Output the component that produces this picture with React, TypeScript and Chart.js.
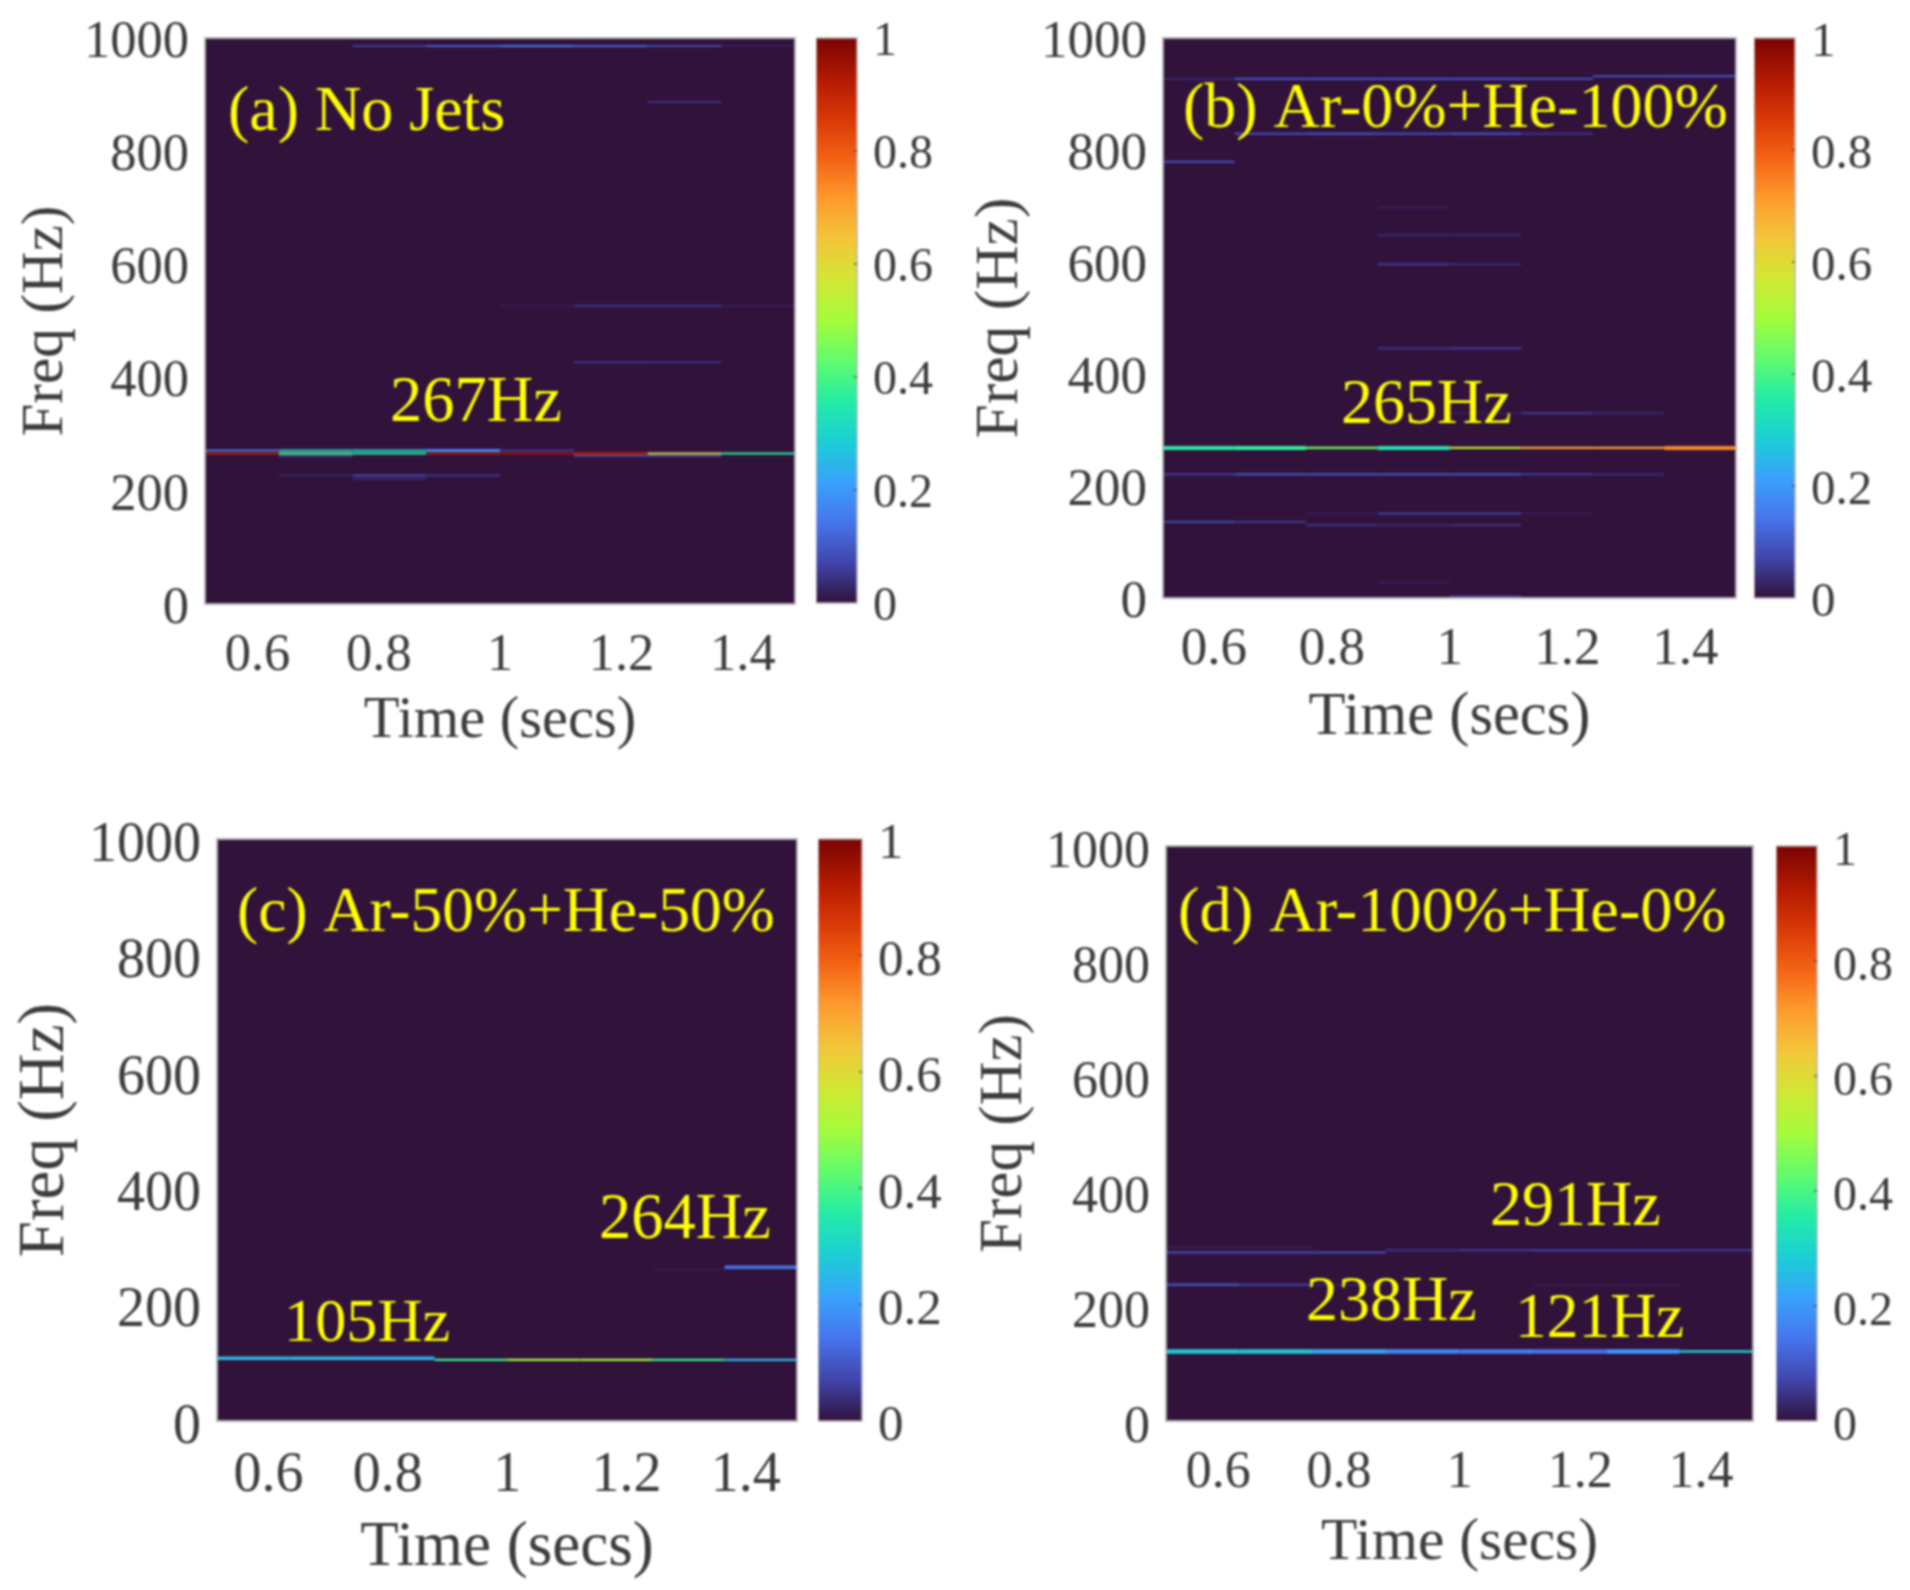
import React, { useEffect, useRef } from "react";
import { Chart, registerables } from "chart.js";

Chart.register(...registerables);

// ---------- data ----------
const timeBinEdges = [0.5135, 0.635, 0.7565, 0.878, 1.0, 1.1215, 1.243, 1.3645, 1.486];
const timeTicks = [0.6, 0.8, 1, 1.2, 1.4];
const freqTicks = [0, 200, 400, 600, 800, 1000];
const levelTicks = [0, 0.2, 0.4, 0.6, 0.8, 1];

// each row: frequency in Hz, then normalised level in each of the eight time bins (0 = none)
const panelAStrong = [
  { freq: 271, levels: [0, 0, 0, 0.17, 0, 0, 0, 0] },
  { freq: 266, levels: [0, 0, 0, 0, 0, 0.93, 0, 0] },
];
const panelAFaint = [
  { freq: 986, levels: [0, 0, 0.06, 0.11, 0.15, 0.12, 0.08, 0.015] },
  { freq: 887, levels: [0, 0, 0, 0, 0, 0, 0.045, 0] },
  { freq: 527, levels: [0, 0, 0, 0, 0.015, 0.05, 0.05, 0.02] },
  { freq: 427, levels: [0, 0, 0, 0, 0, 0.05, 0.04, 0] },
  { freq: 271, levels: [0.14, 0.3, 0.3, 0, 0.06, 0, 0, 0] },
  { freq: 266, levels: [0.92, 0.42, 0.36, 0.93, 0.95, 0, 0.6, 0.36] },
  { freq: 262, levels: [0, 0.07, 0, 0, 0, 0.08, 0.08, 0] },
  { freq: 227, levels: [0, 0.025, 0.09, 0.05, 0, 0, 0, 0] },
  { freq: 221, levels: [0, 0, 0.03, 0, 0, 0, 0, 0] },
];

const panelBStrong = [
  { freq: 268, levels: [0.36, 0.37, 0, 0.34, 0, 0, 0, 0.74] },
];
const panelBFaint = [
  { freq: 932, levels: [0, 0, 0, 0, 0, 0, 0.08, 0.09] },
  { freq: 927, levels: [0.03, 0.09, 0.09, 0.09, 0.09, 0.075, 0, 0] },
  { freq: 829, levels: [0, 0.07, 0.08, 0.07, 0.08, 0.04, 0, 0] },
  { freq: 779, levels: [0.07, 0, 0, 0, 0, 0, 0, 0] },
  { freq: 697, levels: [0, 0, 0, 0.02, 0, 0, 0, 0] },
  { freq: 648, levels: [0, 0, 0, 0.03, 0.03, 0, 0, 0] },
  { freq: 596, levels: [0, 0, 0, 0.05, 0.03, 0, 0, 0] },
  { freq: 446, levels: [0, 0, 0, 0.04, 0.05, 0, 0, 0] },
  { freq: 330, levels: [0, 0, 0, 0, 0.015, 0.05, 0.03, 0] },
  { freq: 268, levels: [0, 0, 0.45, 0, 0.56, 0.7, 0.7, 0] },
  { freq: 221, levels: [0.05, 0.08, 0.08, 0.08, 0.08, 0.05, 0.03, 0] },
  { freq: 151, levels: [0, 0, 0.015, 0.06, 0.06, 0.015, 0, 0] },
  { freq: 136, levels: [0.07, 0.05, 0, 0, 0, 0, 0, 0] },
  { freq: 130, levels: [0, 0, 0.04, 0.03, 0.04, 0, 0, 0] },
  { freq: 28, levels: [0, 0, 0, 0.02, 0, 0, 0, 0] },
  { freq: 3, levels: [0, 0, 0, 0, 0.05, 0, 0, 0] },
];

const panelCStrong = [
  { freq: 108, levels: [0.25, 0.25, 0.24, 0, 0, 0, 0, 0] },
  { freq: 264, levels: [0, 0, 0, 0, 0, 0, 0, 0.14] },
];
const panelCFaint = [
  { freq: 105, levels: [0, 0, 0, 0.38, 0.5, 0.5, 0.38, 0.25] },
  { freq: 260, levels: [0, 0, 0, 0, 0, 0, 0.012, 0] },
];

const panelDStrong = [
  { freq: 121, levels: [0.28, 0.28, 0.22, 0.18, 0.16, 0.14, 0.2, 0] },
];
const panelDFaint = [
  { freq: 302, levels: [0.015, 0.015, 0, 0, 0, 0, 0, 0] },
  { freq: 293, levels: [0.07, 0.07, 0.07, 0, 0, 0, 0, 0] },
  { freq: 297, levels: [0, 0, 0, 0.04, 0.05, 0.06, 0.06, 0.05] },
  { freq: 237, levels: [0.09, 0.06, 0.02, 0, 0, 0.012, 0.012, 0] },
  { freq: 121, levels: [0, 0, 0, 0, 0, 0, 0, 0.3] },
];

// ---------- colours: the turbo colour map ----------
const turboStops = [
  "#30123b", "#4145ab", "#4675ed", "#39a2fc", "#1bcfd4", "#24eca6", "#61fc6c", "#a4fc3b",
  "#d1e834", "#f3c63a", "#fe9b2d", "#f36315", "#d93806", "#b11901", "#7a0403",
];
const hexToRgb = (h: string) => [1, 3, 5].map((i) => parseInt(h.slice(i, i + 2), 16));
function turbo(v: number) {
  const p = Math.min(0.9999, Math.max(0, v)) * (turboStops.length - 1);
  const i = Math.floor(p);
  const a = hexToRgb(turboStops[i]);
  const b = hexToRgb(turboStops[i + 1]);
  const c = a.map((x, k) => Math.round(x + (b[k] - x) * (p - i)));
  return `rgb(${c[0]},${c[1]},${c[2]})`;
}

const SERIF = '"Liberation Serif", "Times New Roman", serif';
const INK = "#3c3c3c";
const EDGE = "#b4b4b4";

// ---------- layout of the four panels (page pixels) ----------
const panels = [
  {
    strong: panelAStrong, faint: panelAFaint, strongW: 3, faintW: 2,
    box: { x: 0, y: 0, w: 830, h: 790 },
    plot: { l: 205, r: 795, t: 38, b: 604 },
    bar: { l: 816, r: 857, t: 38, b: 603 },
    yTitleX: 46, xTitleY: 722, tick: 52.5, xTitle: 58.5, yTitle: 59, barTick: 48,
    xTickPad: 21, yLabelShift: 5, barLabelShift: 4,
    notes: [
      { text: "(a) No Jets", x: 228, y: 113, size: 64 },
      { text: "267Hz", x: 390, y: 404, size: 64.5 },
    ],
  },
  {
    strong: panelBStrong, faint: panelBFaint, strongW: 4, faintW: 2.3,
    box: { x: 955, y: 0, w: 800, h: 790 },
    plot: { l: 1163, r: 1736, t: 38, b: 598 },
    bar: { l: 1754, r: 1795, t: 38, b: 598 },
    yTitleX: 1001, xTitleY: 718, tick: 53, xTitle: 60.5, yTitle: 61.5, barTick: 49,
    xTickPad: 20, yLabelShift: 5, barLabelShift: 5,
    notes: [
      { text: "(b) Ar-0%+He-100%", x: 1183, y: 110, size: 64 },
      { text: "265Hz", x: 1341, y: 406, size: 64 },
    ],
  },
  {
    strong: panelCStrong, faint: panelCFaint, strongW: 3.5, faintW: 2.2,
    box: { x: 0, y: 800, w: 830, h: 790 },
    plot: { l: 217, r: 797, t: 839, b: 1421 },
    bar: { l: 818, r: 862, t: 839, b: 1421 },
    yTitleX: 46, xTitleY: 1548, tick: 56, xTitle: 63, yTitle: 65, barTick: 51,
    xTickPad: 22, yLabelShift: 7, barLabelShift: 6,
    notes: [
      { text: "(c) Ar-50%+He-50%", x: 237, y: 914, size: 63.6 },
      { text: "264Hz", x: 599, y: 1221, size: 64.5 },
      { text: "105Hz", x: 284, y: 1325, size: 62.3 },
    ],
  },
  {
    strong: panelDStrong, faint: panelDFaint, strongW: 4.5, faintW: 2.5,
    box: { x: 955, y: 800, w: 815, h: 790 },
    plot: { l: 1166, r: 1753, t: 846, b: 1421 },
    bar: { l: 1776, r: 1817, t: 846, b: 1421 },
    yTitleX: 1005, xTitleY: 1543, tick: 52, xTitle: 59.5, yTitle: 61, barTick: 48,
    xTickPad: 21, yLabelShift: 7, barLabelShift: 6,
    notes: [
      { text: "(d) Ar-100%+He-0%", x: 1178, y: 914, size: 64.4 },
      { text: "291Hz", x: 1490, y: 1208, size: 64 },
      { text: "238Hz", x: 1306, y: 1303, size: 64 },
      { text: "121Hz", x: 1515, y: 1320, size: 63.5 },
    ],
  },
];

type Panel = (typeof panels)[number];

function clearMargins(s: any) {
  s.paddingTop = 0;
  s.paddingBottom = 0;
  s.paddingLeft = 0;
  s.paddingRight = 0;
}

function cellDatasets(rows: { freq: number; levels: number[] }[], width: number) {
  const out: any[] = [];
  rows.forEach((row) =>
    row.levels.forEach((level, i) => {
      if (!level) return;
      out.push({
        data: [
          { x: timeBinEdges[i], y: row.freq },
          { x: timeBinEdges[i + 1], y: row.freq },
        ],
        showLine: true,
        pointRadius: 0,
        borderWidth: width,
        borderColor: turbo(level),
        borderCapStyle: "butt",
      });
    })
  );
  return out;
}

function makeSpectrogram(canvas: HTMLCanvasElement, p: Panel) {
  const { box, plot } = p;
  return new Chart(canvas, {
    type: "scatter",
    data: { datasets: [...cellDatasets(p.faint, p.faintW), ...cellDatasets(p.strong, p.strongW)] },
    options: {
      animation: false,
      responsive: false,
      devicePixelRatio: 1,
      layout: {
        autoPadding: false,
        padding: { left: 0, top: plot.t - box.y, right: box.x + box.w - plot.r, bottom: 0 },
      },
      plugins: { legend: { display: false }, tooltip: { enabled: false } },
      scales: {
        x: {
          type: "linear",
          min: timeBinEdges[0],
          max: timeBinEdges[timeBinEdges.length - 1],
          afterBuildTicks: (s: any) => { s.ticks = timeTicks.map((value) => ({ value })); },
          afterFit: (s: any) => { s.height = box.y + box.h - plot.b; clearMargins(s); },
          grid: { display: false, drawTicks: false },
          border: { display: true, color: EDGE, width: 2 },
          ticks: {
            padding: p.xTickPad, autoSkip: false, maxRotation: 0, color: INK,
            font: { family: SERIF, size: p.tick },
            callback: (v: any) => String(Math.round(v * 10) / 10),
          },
          title: {
            display: true, text: "Time (secs)", color: INK,
            font: { family: SERIF, size: p.xTitle, lineHeight: 1.2 },
            padding: { top: 0, bottom: box.y + box.h - p.xTitleY - (p.xTitle * 1.2) / 2 },
          },
        },
        y: {
          type: "linear",
          min: 0,
          max: 1000,
          afterBuildTicks: (s: any) => { s.ticks = freqTicks.map((value) => ({ value })); },
          afterFit: (s: any) => { s.width = plot.l - box.x; clearMargins(s); },
          grid: { display: false, drawTicks: false },
          border: { display: true, color: EDGE, width: 2 },
          ticks: {
            padding: 16, autoSkip: false, color: INK, labelOffset: p.yLabelShift,
            font: { family: SERIF, size: p.tick },
            callback: (v: any) => String(v),
          },
          title: {
            display: true, text: "Freq (Hz)", color: INK,
            font: { family: SERIF, size: p.yTitle, lineHeight: 1.2 },
            padding: { top: p.yTitleX - box.x - (p.yTitle * 1.2) / 2, bottom: 0 },
          },
        },
      },
    },
    plugins: [
      {
        id: "plotBackground",
        beforeDatasetsDraw(chart: any) {
          const a = chart.chartArea;
          const c = chart.ctx;
          c.save();
          c.fillStyle = turbo(0);
          c.fillRect(a.left, a.top, a.right - a.left, a.bottom - a.top);
          c.restore();
        },
        afterDatasetsDraw(chart: any) {
          const a = chart.chartArea;
          const c = chart.ctx;
          c.save();
          c.strokeStyle = EDGE;
          c.lineWidth = 2;
          c.strokeRect(a.left, a.top, a.right - a.left, a.bottom - a.top);
          c.restore();
        },
      },
      {
        id: "notes",
        afterDraw(chart: any) {
          const c = chart.ctx;
          c.save();
          c.fillStyle = "#ffff00";
          c.textBaseline = "middle";
          c.textAlign = "left";
          p.notes.forEach((n) => {
            c.font = `${n.size}px ${SERIF}`;
            c.fillText(n.text, n.x - box.x, n.y - box.y);
          });
          c.restore();
        },
      },
    ],
  } as any);
}

function makeColorbar(canvas: HTMLCanvasElement, p: Panel) {
  const { bar, box } = p;
  const barBoxW = 125;
  const canvasH = box.h;
  return new Chart(canvas, {
    type: "bar",
    data: {
      labels: ["level"],
      datasets: [
        {
          data: [[levelTicks[0], levelTicks[levelTicks.length - 1]]],
          barPercentage: 1,
          categoryPercentage: 1,
          backgroundColor: (ctx: any) => {
            const area = ctx.chart.chartArea;
            if (!area) return turbo(0);
            const g = ctx.chart.ctx.createLinearGradient(0, area.bottom, 0, area.top);
            turboStops.forEach((s, i) => g.addColorStop(i / (turboStops.length - 1), s));
            return g;
          },
        },
      ],
    },
    options: {
      animation: false,
      responsive: false,
      devicePixelRatio: 1,
      layout: {
        autoPadding: false,
        padding: { left: 0, right: 0, top: bar.t - box.y, bottom: box.y + canvasH - bar.b },
      },
      plugins: { legend: { display: false }, tooltip: { enabled: false } },
      scales: {
        x: { display: false },
        y: {
          position: "right",
          min: 0,
          max: 1,
          afterBuildTicks: (s: any) => { s.ticks = levelTicks.map((value) => ({ value })); },
          afterFit: (s: any) => { s.width = barBoxW - (bar.r - bar.l); clearMargins(s); },
          grid: { display: false, drawTicks: false },
          border: { display: false },
          ticks: {
            padding: 16, autoSkip: false, color: INK, labelOffset: p.barLabelShift,
            font: { family: SERIF, size: p.barTick },
            callback: (v: any) => String(Math.round(v * 10) / 10),
          },
        },
      },
    },
    plugins: [
      {
        id: "barFrame",
        afterDatasetsDraw(chart: any) {
          const a = chart.chartArea;
          const c = chart.ctx;
          c.save();
          c.strokeStyle = EDGE;
          c.lineWidth = 1.5;
          c.strokeRect(a.left, a.top, a.right - a.left, a.bottom - a.top);
          c.strokeStyle = "rgba(60,60,60,0.7)";
          levelTicks.slice(1, -1).forEach((v) => {
            const y = chart.scales.y.getPixelForValue(v);
            c.beginPath();
            c.moveTo(a.right - 3, y);
            c.lineTo(a.right, y);
            c.stroke();
          });
          c.restore();
        },
      },
    ],
  } as any);
}

function PanelView({ p }: { p: Panel }) {
  const plotRef = useRef<HTMLCanvasElement>(null);
  const barRef = useRef<HTMLCanvasElement>(null);
  useEffect(() => {
    const a = makeSpectrogram(plotRef.current!, p);
    const b = makeColorbar(barRef.current!, p);
    return () => {
      a.destroy();
      b.destroy();
    };
  }, [p]);
  const soft = "blur(0.8px)";
  return (
    <>
      <canvas
        ref={plotRef}
        width={p.box.w}
        height={p.box.h}
        style={{ position: "absolute", left: p.box.x, top: p.box.y, width: p.box.w, height: p.box.h, filter: soft }}
      />
      <canvas
        ref={barRef}
        width={125}
        height={p.box.h}
        style={{ position: "absolute", left: p.bar.l, top: p.box.y, width: 125, height: p.box.h, filter: soft }}
      />
    </>
  );
}

export default function App() {
  return (
    <div style={{ position: "absolute", left: 0, top: 0, width: 1910, height: 1590, background: "#fff", overflow: "hidden" }}>
      {panels.map((p, i) => (
        <PanelView key={i} p={p} />
      ))}
    </div>
  );
}
